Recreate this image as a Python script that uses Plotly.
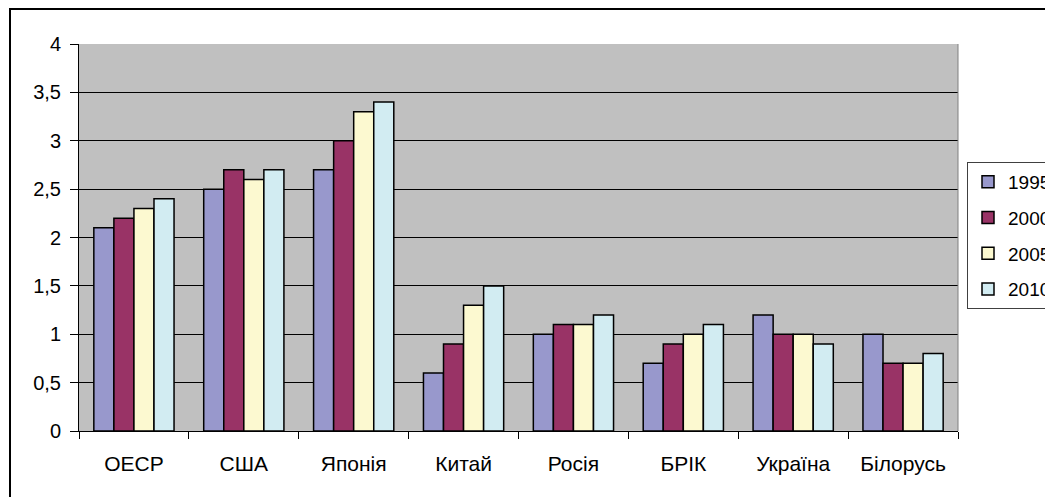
import plotly.graph_objects as go

categories = ["ОЕСР", "США", "Японія", "Китай", "Росія", "БРІК", "Україна", "Білорусь"]
years = ["1995", "2000", "2005", "2010"]
v1995 = [2.1, 2.5, 2.7, 0.6, 1.0, 0.7, 1.2, 1.0]
v2000 = [2.2, 2.7, 3.0, 0.9, 1.1, 0.9, 1.0, 0.7]
v2005 = [2.3, 2.6, 3.3, 1.3, 1.1, 1.0, 1.0, 0.7]
v2010 = [2.4, 2.7, 3.4, 1.5, 1.2, 1.1, 0.9, 0.8]
series = [v1995, v2000, v2005, v2010]
colors = ["#9898CC", "#993366", "#FCF9D0", "#D2ECF2"]

fig = go.Figure()
for name, vals, col in zip(years, series, colors):
    fig.add_trace(go.Bar(
        x=categories, y=vals, name=name, legendgroup=name,
        marker=dict(color=col, line=dict(color="black", width=1.5)),
    ))

OFF = 8  # page body margin
W, H = 1053 - OFF, 497 - OFF
L, T = 79 - OFF, 44 - OFF
R = W - (958 - OFF)
B = H - (431 - OFF)
pw, ph = W - L - R, H - T - B

def px_x(x):
    return (x - OFF - L) / pw

def px_y(y):
    return (H - B - (y - OFF)) / ph

fig.update_layout(
    width=W, height=H,
    margin=dict(l=L, r=R, t=T, b=B, autoexpand=False),
    paper_bgcolor="white",
    plot_bgcolor="#C0C0C0",
    barmode="group", bargap=0.27, bargroupgap=0,
    separators=", ",
    font=dict(family="Arial, Liberation Sans, sans-serif", size=20, color="black"),
    showlegend=True,
    legend=dict(
        x=px_x(967), xanchor="left",
        y=px_y(162), yanchor="top",
        bgcolor="white", bordercolor="#404040", borderwidth=1,
        font=dict(size=19), traceorder="grouped", tracegroupgap=8,
        itemwidth=30,
    ),
    xaxis=dict(
        showline=True, linecolor="black", linewidth=1,
        ticks="outside", ticklen=7, tickcolor="black", tickson="boundaries",
        tickfont=dict(size=21), ticklabelstandoff=14,
        showgrid=False, mirror=False,
    ),
    yaxis=dict(
        range=[0, 4], dtick=0.5, tick0=0,
        showline=True, linecolor="black", linewidth=1,
        ticks="outside", ticklen=8, tickcolor="black", ticklabelstandoff=5,
        showgrid=True, gridcolor="black", gridwidth=1,
        zeroline=False,
    ),
)

# grey right edge of plot area
fig.add_shape(type="line", xref="paper", yref="paper", x0=1, x1=1, y0=0, y1=1,
              line=dict(color="#808080", width=1))
# outer chart frame
fig.add_shape(type="rect", xref="paper", yref="paper",
              x0=px_x(10), x1=px_x(1080),
              y0=px_y(530), y1=px_y(9),
              line=dict(color="black", width=2), layer="above")

fig.write_html("out.html")
